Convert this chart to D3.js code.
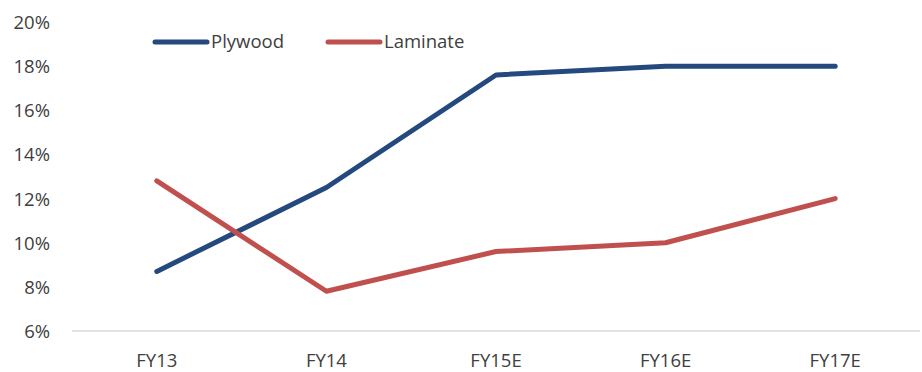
<!DOCTYPE html>
<html>
<head>
<meta charset="utf-8">
<script src="https://cdn.jsdelivr.net/npm/d3@7"></script>
<style>
  html, body { margin: 0; padding: 0; background: #fff; }
  svg text { font-family: "Open Sans", "Liberation Sans", sans-serif; fill: #404040; }
</style>
</head>
<body>
<svg id="chart" width="922" height="372"></svg>
<script>
const categories = ["FY13", "FY14", "FY15E", "FY16E", "FY17E"];
const plywood = [8.7, 12.5, 17.6, 18.0, 18.0];
const laminate = [12.8, 7.8, 9.6, 10.0, 12.0];
const yTicks = [6, 8, 10, 12, 14, 16, 18, 20];

const series = [
  { name: "Plywood", values: plywood, color: "#23497E" },
  { name: "Laminate", values: laminate, color: "#C0504D" }
];

const svg = d3.select("#chart");
const margin = { left: 72, right: 2, top: 22, bottom: 41 };
const W = 922, H = 372;
const fontSize = 18.5;

const x = d3.scaleBand().domain(categories).range([margin.left, W - margin.right]);
const y = d3.scaleLinear().domain([6, 20]).range([H - margin.bottom, margin.top]);

// baseline
svg.append("line")
  .attr("x1", margin.left).attr("x2", W - margin.right)
  .attr("y1", y(6)).attr("y2", y(6))
  .attr("stroke", "#d9d9d9").attr("stroke-width", 1.5);

// y axis labels
const yAxis = d3.axisLeft(y).tickValues(yTicks).tickFormat(d => d + "%").tickSize(0).tickPadding(0);
const gy = svg.append("g").attr("transform", `translate(50,0)`).call(yAxis);
gy.select(".domain").remove();
gy.selectAll("text").attr("font-size", fontSize).attr("dy", "0.35em")
  .style("font-family", "'Open Sans', 'Liberation Sans', sans-serif").attr("fill", "#404040");

// x axis labels
const xAxis = d3.axisBottom(x).tickSize(0).tickPadding(0);
const gx = svg.append("g").attr("transform", `translate(0,${y(6) + 30})`).call(xAxis);
gx.select(".domain").remove();
gx.selectAll("text").attr("font-size", fontSize).attr("dy", "0.35em")
  .style("font-family", "'Open Sans', 'Liberation Sans', sans-serif").attr("fill", "#404040");

const line = d3.line()
  .x((d, i) => x(categories[i]) + x.bandwidth() / 2)
  .y(d => y(d));

series.forEach(s => {
  svg.append("path")
    .datum(s.values)
    .attr("d", line)
    .attr("fill", "none")
    .attr("stroke", s.color)
    .attr("stroke-width", 5)
    .attr("stroke-linejoin", "round")
    .attr("stroke-linecap", "round");
});

// legend
const legendPos = [{ x: 155, y: 42 }, { x: 328, y: 42 }];
series.forEach((s, i) => {
  const g = svg.append("g").attr("transform", `translate(${legendPos[i].x},${legendPos[i].y})`);
  g.append("line").attr("x1", 0).attr("x2", 52).attr("y1", 0).attr("y2", 0)
    .attr("stroke", s.color).attr("stroke-width", 5).attr("stroke-linecap", "round");
  g.append("text").attr("x", 56).attr("y", 0).attr("dy", "0.35em")
    .attr("font-size", fontSize).text(s.name);
});
</script>
</body>
</html>
